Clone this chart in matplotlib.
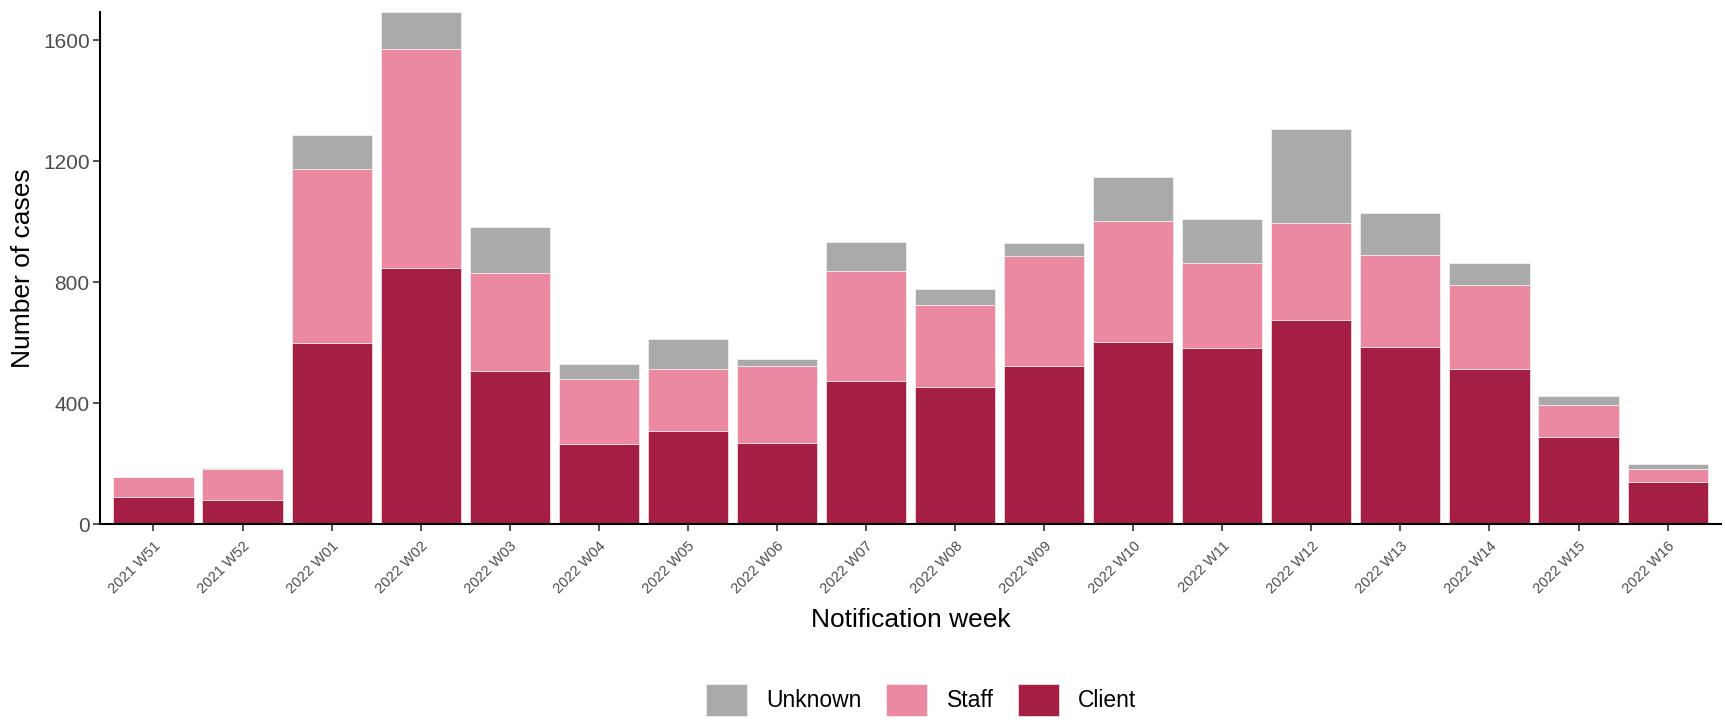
import matplotlib.pyplot as plt
import numpy as np

plt.rcParams["font.family"] = ["Liberation Sans", "DejaVu Sans"]

# weekly case counts
weeks = ["2021 W51", "2021 W52", "2022 W01", "2022 W02", "2022 W03", "2022 W04",
         "2022 W05", "2022 W06", "2022 W07", "2022 W08", "2022 W09", "2022 W10",
         "2022 W11", "2022 W12", "2022 W13", "2022 W14", "2022 W15", "2022 W16"]
client = [88, 78, 599, 846, 506, 264, 307, 268, 474, 453, 524, 603, 583, 676, 586, 513, 287, 139]
staff = [67, 104, 576, 726, 323, 217, 205, 256, 364, 270, 364, 400, 280, 320, 303, 277, 107, 42]
unknown = [0, 3, 111, 122, 154, 49, 100, 21, 94, 56, 42, 146, 147, 311, 141, 72, 30, 19]

colours = {"Client": "#A51F45", "Staff": "#EA89A0", "Unknown": "#AAAAAA"}
yticks = [0, 400, 800, 1200, 1600]

fig = plt.figure(figsize=(17.25, 7.23), dpi=100)
ax = fig.add_axes([0.058, 0.2752, 0.9397, 0.7082])

x = np.arange(len(weeks))
client = np.array(client)
staff = np.array(staff)
unknown = np.array(unknown)

h_client = ax.bar(x, client, width=0.9, color=colours["Client"], edgecolor="#ffffff", linewidth=0.4)
h_staff = ax.bar(x, staff, width=0.9, bottom=client, color=colours["Staff"], edgecolor="#ffffff", linewidth=0.4)
h_unknown = ax.bar(x, unknown, width=0.9, bottom=client + staff, color=colours["Unknown"], edgecolor="#ffffff", linewidth=0.4)

totals = client + staff + unknown
ax.set_xlim(-0.6, len(weeks) - 0.4)
ax.set_ylim(0, totals.max())

ax.set_yticks(yticks)
ax.set_xticks(x)
ax.set_xticklabels(weeks, rotation=45, ha="right", rotation_mode="anchor", fontsize=10.5, color="#4D4D4D")
ax.tick_params(axis="y", labelsize=15, labelcolor="#4D4D4D", color="#333333", length=5, width=1.2, pad=2.5)
ax.tick_params(axis="x", color="#333333", length=5, width=1.2, pad=6)

for side in ["top", "right"]:
    ax.spines[side].set_visible(False)
for side in ["left", "bottom"]:
    ax.spines[side].set_linewidth(1.5)
    ax.spines[side].set_color("black")

ax.set_ylabel("Number of cases", fontsize=19, labelpad=6)
ax.set_xlabel("Notification week", fontsize=19, labelpad=8)

fig.legend([h_unknown, h_staff, h_client], ["Unknown", "Staff", "Client"],
           loc="center", bbox_to_anchor=(0.534, 0.032), ncol=3, frameon=False,
           fontsize=16.5, handlelength=1.8, handleheight=1.8,
           handletextpad=0.85, columnspacing=1.05)

plt.savefig("out.png", dpi=100)
